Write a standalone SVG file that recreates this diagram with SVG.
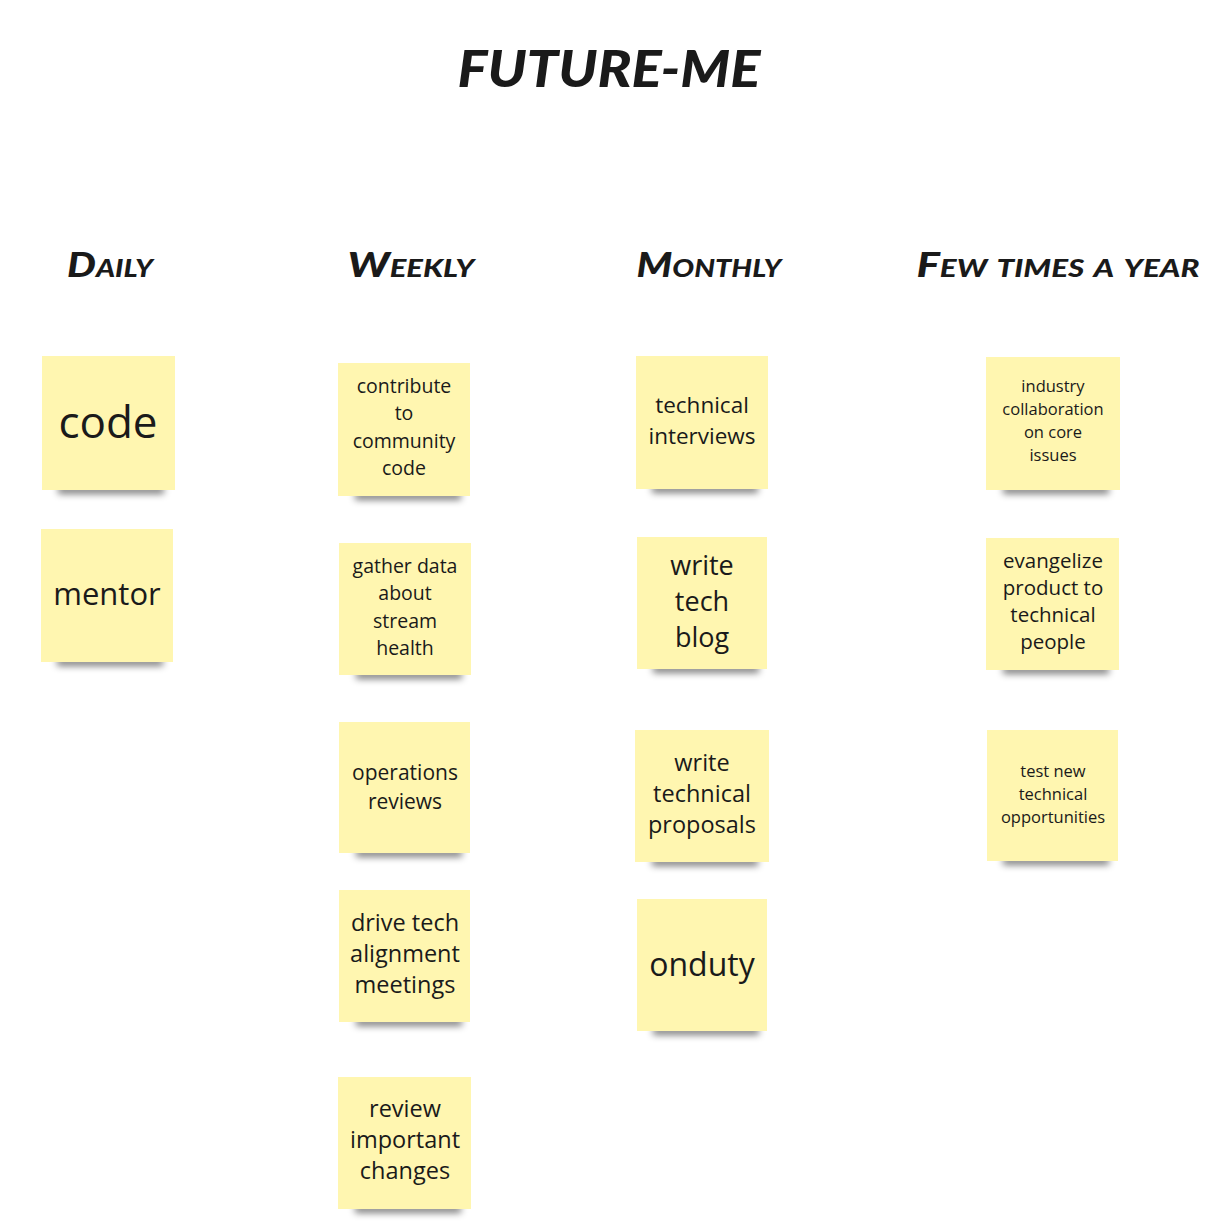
<svg xmlns="http://www.w3.org/2000/svg" width="1226" height="1230" viewBox="0 0 1226 1230">
<style>
.title{font-family:"Lato","Liberation Sans",sans-serif;font-weight:900;font-style:italic;fill:#1a1a1a;text-anchor:middle}
.hdr{font-family:"Lato","Liberation Sans",sans-serif;font-weight:900;font-style:italic;font-variant:small-caps;fill:#1a1a1a;text-anchor:middle;font-size:35px}
.note{fill:#fff6b0}
.sh{fill:#000;opacity:0.5;filter:url(#blur)}
.t{font-family:"Open Sans","Noto Sans",sans-serif;fill:#1a1a1a;text-anchor:middle}
</style>
<defs>
<filter id="blur" x="-20%" y="-150%" width="140%" height="400%"><feGaussianBlur stdDeviation="3.5"/></filter>
<linearGradient id="g" x1="0" y1="0" x2="1" y2="1"><stop offset="0" stop-color="#fdf3ad"/><stop offset="1" stop-color="#fff7b4"/></linearGradient>
</defs>
<rect width="1226" height="1230" fill="#fff"/>
<text class="title" x="609" y="87" font-size="52" textLength="303" lengthAdjust="spacingAndGlyphs">FUTURE-ME</text>
<g id="headers">
<text class="hdr" x="110" y="277" textLength="86" lengthAdjust="spacingAndGlyphs">Daily</text>
<text class="hdr" x="411" y="277" textLength="127" lengthAdjust="spacingAndGlyphs">Weekly</text>
<text class="hdr" x="709" y="277" textLength="145" lengthAdjust="spacingAndGlyphs">Monthly</text>
<text class="hdr" x="1058" y="277" textLength="283" lengthAdjust="spacingAndGlyphs">Few times a year</text>
</g>
<g id="connectors"/>
<g id="n-code"><rect class="sh" x="58" y="486" width="106" height="8"/><rect class="note" fill="url(#g)" x="42" y="356" width="133" height="134"/><text class="t" x="108" y="438" font-size="44">code</text></g>
<g id="n-mentor"><rect class="sh" x="57" y="658" width="106" height="8"/><rect class="note" fill="url(#g)" x="41" y="529" width="132" height="133"/><text class="t" x="107" y="605" font-size="31">mentor</text></g>
<g id="n-contribute"><rect class="sh" x="355" y="492" width="106" height="8"/><rect class="note" fill="url(#g)" x="338" y="363" width="132" height="133"/><text class="t" font-size="19.5"><tspan x="404" y="393">contribute</tspan><tspan x="404" y="420">to</tspan><tspan x="404" y="448">community</tspan><tspan x="404" y="475">code</tspan></text></g>
<g id="n-gather"><rect class="sh" x="356" y="671" width="106" height="8"/><rect class="note" fill="url(#g)" x="339" y="543" width="132" height="132"/><text class="t" font-size="19.5"><tspan x="405" y="573">gather data</tspan><tspan x="405" y="600">about</tspan><tspan x="405" y="628">stream</tspan><tspan x="405" y="655">health</tspan></text></g>
<g id="n-operations"><rect class="sh" x="356" y="849" width="106" height="8"/><rect class="note" fill="url(#g)" x="339" y="722" width="131" height="131"/><text class="t" font-size="21"><tspan x="405" y="780">operations</tspan><tspan x="405" y="809">reviews</tspan></text></g>
<g id="n-drive"><rect class="sh" x="356" y="1018" width="106" height="8"/><rect class="note" fill="url(#g)" x="339" y="890" width="131" height="132"/><text class="t" font-size="23.5"><tspan x="405" y="931">drive tech</tspan><tspan x="405" y="962">alignment</tspan><tspan x="405" y="993">meetings</tspan></text></g>
<g id="n-review"><rect class="sh" x="355" y="1205" width="106" height="8"/><rect class="note" fill="url(#g)" x="338" y="1077" width="133" height="132"/><text class="t" font-size="23.5"><tspan x="405" y="1117">review</tspan><tspan x="405" y="1148">important</tspan><tspan x="405" y="1179">changes</tspan></text></g>
<g id="n-interviews"><rect class="sh" x="652" y="485" width="106" height="8"/><rect class="note" fill="url(#g)" x="636" y="356" width="132" height="133"/><text class="t" font-size="22.5"><tspan x="702" y="413">technical</tspan><tspan x="702" y="444">interviews</tspan></text></g>
<g id="n-blog"><rect class="sh" x="653" y="665" width="106" height="8"/><rect class="note" fill="url(#g)" x="637" y="537" width="130" height="132"/><text class="t" font-size="27"><tspan x="702" y="575">write</tspan><tspan x="702" y="611">tech</tspan><tspan x="702" y="647">blog</tspan></text></g>
<g id="n-proposals"><rect class="sh" x="652" y="858" width="106" height="8"/><rect class="note" fill="url(#g)" x="635" y="730" width="134" height="132"/><text class="t" font-size="23.5"><tspan x="702" y="771">write</tspan><tspan x="702" y="802">technical</tspan><tspan x="702" y="833">proposals</tspan></text></g>
<g id="n-onduty"><rect class="sh" x="653" y="1027" width="106" height="8"/><rect class="note" fill="url(#g)" x="637" y="899" width="130" height="132"/><text class="t" x="702" y="976" font-size="32">onduty</text></g>
<g id="n-industry"><rect class="sh" x="1003" y="486" width="106" height="8"/><rect class="note" fill="url(#g)" x="986" y="357" width="134" height="133"/><text class="t" font-size="16.5"><tspan x="1053" y="392">industry</tspan><tspan x="1053" y="415">collaboration</tspan><tspan x="1053" y="438">on core</tspan><tspan x="1053" y="461">issues</tspan></text></g>
<g id="n-evangelize"><rect class="sh" x="1003" y="666" width="106" height="8"/><rect class="note" fill="url(#g)" x="986" y="538" width="133" height="132"/><text class="t" font-size="20.5"><tspan x="1053" y="568">evangelize</tspan><tspan x="1053" y="595">product to</tspan><tspan x="1053" y="622">technical</tspan><tspan x="1053" y="649">people</tspan></text></g>
<g id="n-testnew"><rect class="sh" x="1003" y="857" width="106" height="8"/><rect class="note" fill="url(#g)" x="987" y="730" width="131" height="131"/><text class="t" font-size="16.5"><tspan x="1053" y="777">test new</tspan><tspan x="1053" y="800">technical</tspan><tspan x="1053" y="823">opportunities</tspan></text></g>
</svg>
